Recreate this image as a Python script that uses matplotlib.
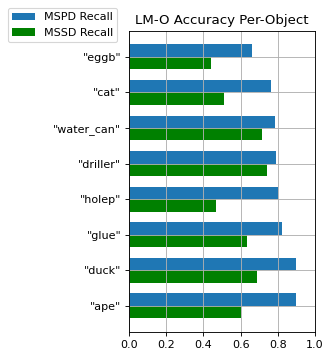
import matplotlib
matplotlib.use("Agg")
import matplotlib.pyplot as plt
import numpy as np

objects = ['"ape"', '"duck"', '"glue"', '"holep"', '"driller"', '"water_can"', '"cat"', '"eggb"']
mspd_recall = [0.90, 0.896, 0.82, 0.80, 0.789, 0.783, 0.762, 0.66]
mssd_recall = [0.602, 0.69, 0.633, 0.466, 0.74, 0.713, 0.51, 0.44]

W, H, DPI = 331, 358, 80
fig = plt.figure(figsize=(W / DPI, H / DPI), dpi=DPI)
ax = fig.add_axes([129/W, 1 - 332/H, 186/W, (332 - 30.7)/H])

y = np.arange(len(objects))
h = 0.35
ax.barh(y + h/2, mspd_recall, height=h, color='#1f77b4', label='MSPD Recall')
ax.barh(y - h/2, mssd_recall, height=h, color='green', label='MSSD Recall')
ax.set_yticks(y)
ax.set_yticklabels(objects)
ax.set_xlim(0, 1.0)
ax.set_xticks(np.arange(0, 1.01, 0.2))
ax.grid(True)
ax.set_title('LM-O Accuracy Per-Object')
fig.legend(loc='upper left', bbox_to_anchor=(8/W, 1 - 8/H), borderaxespad=0)
fig.savefig('out.png', dpi=DPI)
